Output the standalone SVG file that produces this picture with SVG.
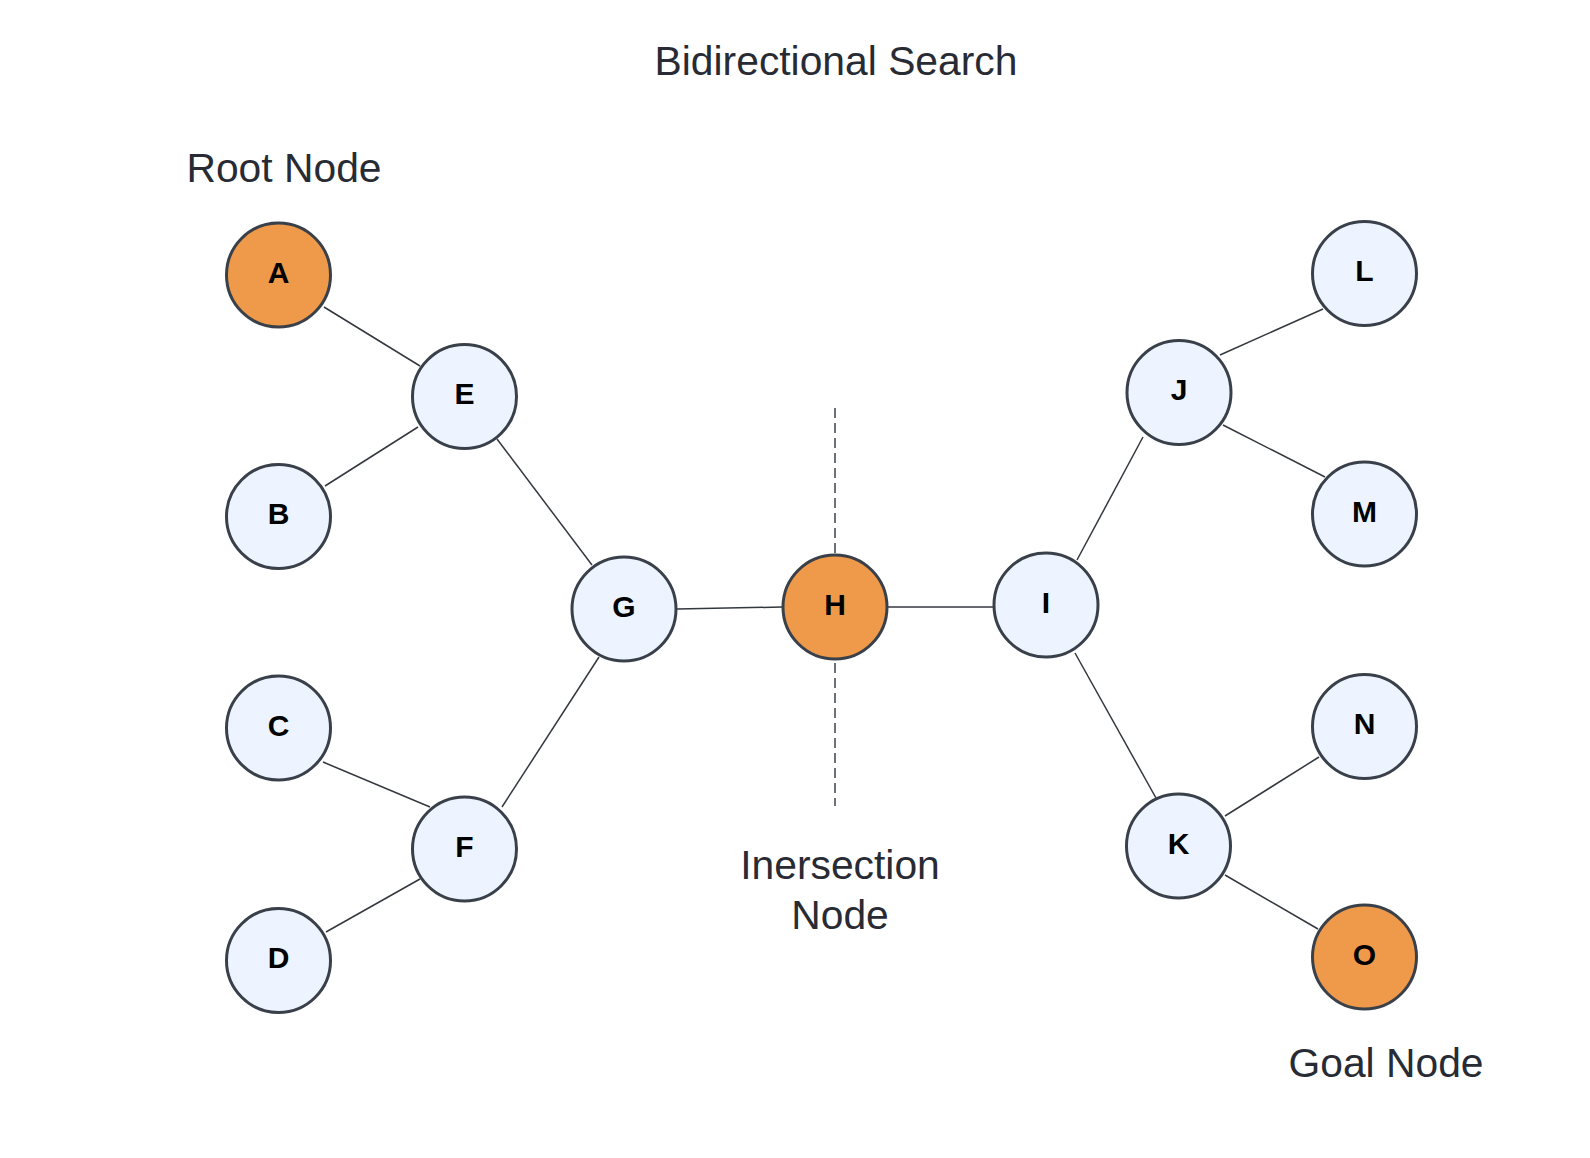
<svg xmlns="http://www.w3.org/2000/svg" width="1590" height="1158" viewBox="0 0 1590 1158">
<style>
.edge{stroke:#33383f;stroke-width:1.5;fill:none}
.dash{stroke:#4a4f57;stroke-width:1.6;stroke-dasharray:10 5;fill:none}
.n{fill:#edf4ff;stroke:#3a4049;stroke-width:3}
.o{fill:#ee9a4a;stroke:#3a4049;stroke-width:3}
.lbl{font-family:"Liberation Sans",Arial,sans-serif;font-weight:bold;font-size:30px;fill:#000;text-anchor:middle}
.cap{font-family:"Liberation Sans",Arial,sans-serif;font-size:40.8px;fill:#282b33;text-anchor:middle}
</style>
<rect width="1590" height="1158" fill="#ffffff"/>
<text class="cap" x="836" y="75">Bidirectional Search</text>
<text class="cap" x="284" y="182">Root Node</text>
<text class="cap" x="840" y="879">Inersection</text>
<text class="cap" x="840" y="929">Node</text>
<text class="cap" x="1386" y="1077">Goal Node</text>
<g id="connectors">
<line class="dash" x1="835" y1="408" x2="835" y2="806"/>
<line class="edge" x1="324" y1="307" x2="420" y2="366"/>
<line class="edge" x1="418" y1="427" x2="325" y2="486"/>
<line class="edge" x1="497" y1="439" x2="592" y2="565"/>
<line class="edge" x1="599" y1="657" x2="502" y2="807"/>
<line class="edge" x1="323" y1="762" x2="430" y2="807"/>
<line class="edge" x1="420" y1="879" x2="326" y2="932"/>
<line class="edge" x1="677" y1="609" x2="782" y2="607"/>
<line class="edge" x1="888" y1="607" x2="993" y2="607"/>
<line class="edge" x1="1077" y1="560" x2="1143" y2="437"/>
<line class="edge" x1="1220" y1="355" x2="1323" y2="309"/>
<line class="edge" x1="1223" y1="425" x2="1325" y2="477"/>
<line class="edge" x1="1075" y1="653" x2="1156" y2="798"/>
<line class="edge" x1="1225" y1="816" x2="1319" y2="757"/>
<line class="edge" x1="1225" y1="875" x2="1318" y2="929"/>
</g>
<g id="node-A"><circle class="o" cx="278.5" cy="275" r="52"/><text class="lbl" x="278.5" y="282.5">A</text></g>
<g id="node-E"><circle class="n" cx="464.5" cy="396.5" r="52"/><text class="lbl" x="464.5" y="404">E</text></g>
<g id="node-B"><circle class="n" cx="278.5" cy="516.5" r="52"/><text class="lbl" x="278.5" y="524">B</text></g>
<g id="node-C"><circle class="n" cx="278.5" cy="728" r="52"/><text class="lbl" x="278.5" y="735.5">C</text></g>
<g id="node-F"><circle class="n" cx="464.5" cy="849" r="52"/><text class="lbl" x="464.5" y="856.5">F</text></g>
<g id="node-D"><circle class="n" cx="278.5" cy="960.5" r="52"/><text class="lbl" x="278.5" y="968">D</text></g>
<g id="node-G"><circle class="n" cx="624" cy="609" r="52"/><text class="lbl" x="624" y="616.5">G</text></g>
<g id="node-H"><circle class="o" cx="835" cy="607" r="52"/><text class="lbl" x="835" y="614.5">H</text></g>
<g id="node-I"><circle class="n" cx="1046" cy="605" r="52"/><text class="lbl" x="1046" y="612.5">I</text></g>
<g id="node-J"><circle class="n" cx="1179" cy="392.5" r="52"/><text class="lbl" x="1179" y="400">J</text></g>
<g id="node-L"><circle class="n" cx="1364.5" cy="273.5" r="52"/><text class="lbl" x="1364.5" y="281">L</text></g>
<g id="node-M"><circle class="n" cx="1364.5" cy="514" r="52"/><text class="lbl" x="1364.5" y="521.5">M</text></g>
<g id="node-N"><circle class="n" cx="1364.5" cy="726.5" r="52"/><text class="lbl" x="1364.5" y="734">N</text></g>
<g id="node-K"><circle class="n" cx="1178.5" cy="846" r="52"/><text class="lbl" x="1178.5" y="853.5">K</text></g>
<g id="node-O"><circle class="o" cx="1364.5" cy="957" r="52"/><text class="lbl" x="1364.5" y="964.5">O</text></g>
</svg>
